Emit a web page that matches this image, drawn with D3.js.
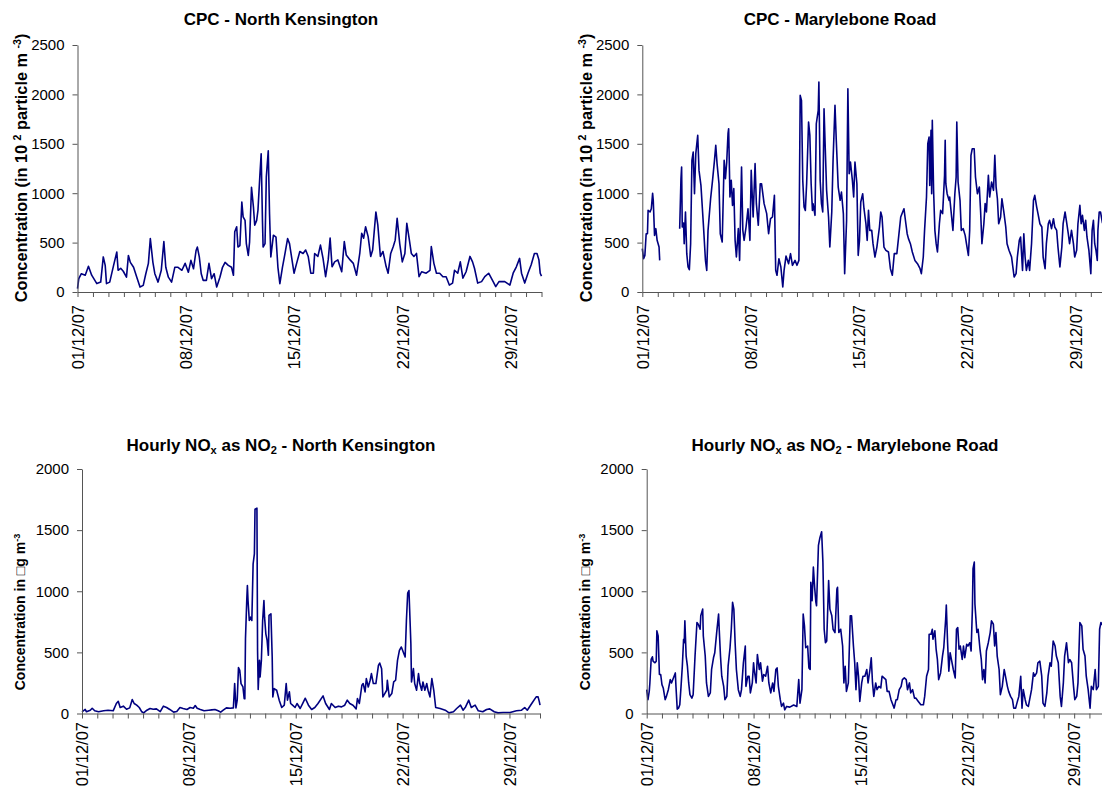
<!DOCTYPE html>
<html><head><meta charset="utf-8">
<script src="https://cdn.jsdelivr.net/npm/d3@7"></script>
<style>
body{margin:0;background:#fff}
svg{display:block;font-family:"Liberation Sans",Arial,sans-serif}
</style></head><body>
<svg id="c" width="1102" height="788"></svg>
<script>
// x tick labels (every 7 days), daily minor ticks
const xTickLabels = ["01/12/07","08/12/07","15/12/07","22/12/07","29/12/07"];
const cpcTicks = [0,500,1000,1500,2000,2500];
const noxTicks = [0,500,1000,1500,2000];

// CPC - North Kensington (hours since 01/12/07 00:00, values)
const tlHours = [0,2,6,12,17,22,30,36,40,43,45,50,56,61,63,67,71,76,79,82,87,92,97,102,106,110,113,117,120,125,130,134,137,141,146,151,156,162,167,172,176,180,184,186,189,192,195,200,204,208,212,216,221,225,229,234,239,242,244,247,249,252,255,257,260,262,265,267,270,273,275,278,280,283,285,287,288,291,293,296,298,300,304,308,311,314,318,322,326,329,336,340,345,350,354,358,362,366,368,373,377,381,385,389,392,395,399,404,410,414,417,423,428,433,438,441,444,447,451,455,458,463,466,470,474,479,482,486,490,493,496,500,504,508,511,515,518,522,526,530,534,541,547,549,553,557,562,567,572,577,582,585,590,594,598,603,609,613,616,621,627,632,638,645,649,654,663,671,676,681,686,689,694,699,704,709,713,716,718,720];
const tlValues = [34,135,185,170,260,170,85,100,355,270,85,100,270,405,220,240,210,150,370,300,250,150,50,67,185,290,540,300,185,100,220,510,250,150,100,250,250,220,290,200,320,235,420,455,355,185,118,118,290,135,185,50,150,250,300,270,250,170,610,660,455,470,910,760,725,490,370,505,1060,860,675,725,825,1180,1400,725,455,490,1165,1430,790,355,575,555,250,85,250,390,540,490,190,290,410,390,425,360,190,190,390,360,475,340,155,325,545,255,305,325,205,510,375,325,290,170,390,595,545,660,560,360,425,810,680,360,410,255,190,390,460,525,745,490,305,390,695,525,390,360,390,155,205,190,220,460,290,190,190,155,155,70,90,220,190,305,140,205,360,305,240,90,105,155,190,105,55,105,105,70,190,255,340,190,90,190,275,390,390,325,190,160];

// CPC - Marylebone Road (null = missing data)
const trHours = [0,2,4,6,8,9,12,14,16,17,19,21,23,26,27,40,58,60,61,62,64,65,67,69,71,73,75,77,79,81,83,86,88,91,95,98,100,102,106,109,112,114,116,119,121,124,127,129,131,133,134,136,138,140,142,144,146,149,151,154,156,158,161,164,167,169,172,175,177,180,183,185,189,193,196,199,202,205,207,209,212,215,218,220,223,227,230,233,237,240,243,245,247,249,251,253,255,258,260,262,264,265,268,270,273,274,276,278,280,282,284,286,289,291,294,296,299,301,304,307,309,312,314,317,319,321,323,326,328,330,333,335,337,339,342,344,347,349,351,353,356,358,361,364,368,370,372,375,378,382,385,388,391,395,398,401,404,406,409,411,413,416,419,423,427,431,433,436,438,441,443,445,446,448,449,450,452,454,456,458,461,463,466,469,470,471,473,476,477,480,482,485,487,488,490,493,495,498,501,503,506,508,510,512,515,517,520,523,525,527,530,532,534,537,539,542,545,547,549,551,553,556,558,561,564,566,569,573,577,580,582,585,587,590,592,594,596,599,601,604,607,609,612,614,617,620,622,625,627,630,632,635,638,640,643,645,648,651,653,656,658,661,663,666,669,671,674,676,679,681,683,686,688,690,693,696,698,700,702,704,706,707,709,711,714,717,720];
const trValues = [438,337,371,590,590,826,810,843,1000,928,573,641,523,455,320,null,641,1147,1265,658,698,489,810,388,253,226,489,1332,1417,995,1400,1585,1231,1079,658,320,219,624,944,1130,1332,1484,1299,1096,590,506,1332,1147,1315,1602,1653,961,1130,877,1046,523,354,641,320,1265,624,523,658,843,523,1231,759,1299,894,675,1096,1096,894,793,590,742,759,978,219,169,337,253,51,219,364,287,388,270,320,270,320,1990,1940,1130,860,826,1096,1720,1585,1096,826,894,776,1703,1838,2125,1130,894,810,1855,1434,1029,759,455,810,1332,1889,1535,1062,928,1012,793,186,725,2057,1197,1315,1130,961,1315,1096,371,523,911,995,843,691,523,826,624,624,489,354,455,658,810,759,455,422,405,236,169,388,388,573,759,810,843,691,590,540,489,405,320,287,236,186,354,624,961,1501,1568,1079,1636,995,1737,1029,624,489,405,691,826,793,1180,1535,1096,995,928,961,759,624,995,1164,1720,1113,928,624,641,573,489,371,624,1383,1450,1450,1164,995,1062,810,489,691,894,810,1180,961,1113,1029,1383,1062,944,691,759,944,810,658,489,422,354,152,186,354,523,557,219,590,354,219,320,219,489,928,978,860,793,691,658,354,236,489,691,725,641,742,658,624,455,253,455,691,810,725,590,489,624,489,354,422,691,877,691,776,624,725,557,422,186,624,725,489,422,320,624,810,810,700,850,840];

// Hourly NOx as NO2 - North Kensington
const blHours = [0,5,7,13,16,20,26,34,41,49,54,57,60,65,70,75,79,82,86,90,94,97,102,107,112,117,123,128,133,138,144,149,154,159,165,170,175,178,181,186,192,199,204,209,214,218,222,227,233,238,240,242,244,246,248,250,253,255,256,257,259,260,261,263,265,267,269,271,272,275,276,277,279,280,282,284,286,287,289,291,293,294,297,299,300,302,306,310,314,318,321,323,326,328,331,335,338,343,347,351,356,361,366,371,379,383,389,392,398,403,408,413,417,421,426,431,433,436,440,442,445,447,450,453,455,458,462,466,468,471,473,476,479,480,483,487,490,493,496,499,502,505,508,510,512,514,517,518,521,523,526,529,531,534,536,539,542,544,547,550,553,556,563,571,577,584,589,595,599,603,608,612,618,623,630,636,641,648,654,662,673,683,691,696,700,707,714,717,719,720];
const blValues = [14,33,14,27,43,22,14,22,27,22,82,100,49,60,35,46,114,82,68,49,14,5,27,41,35,38,16,60,49,33,11,16,49,41,33,49,43,65,43,33,22,27,30,33,22,11,27,46,43,46,245,46,109,375,353,245,217,122,120,612,924,1046,924,761,788,761,1223,1305,1672,1680,516,196,435,299,435,761,924,788,652,598,476,802,815,462,136,204,190,109,49,68,245,109,177,82,68,49,82,41,82,125,68,33,49,82,144,82,33,82,49,60,54,68,109,82,68,38,122,82,231,245,177,285,217,272,326,245,245,394,413,367,136,163,190,272,136,163,258,272,435,516,544,503,462,761,984,1006,571,258,367,245,190,326,245,190,258,190,245,190,136,285,190,49,41,27,5,14,41,68,27,54,109,49,68,22,14,33,38,14,5,8,8,22,27,49,27,82,136,136,95,68];

// Hourly NOx as NO2 - Marylebone Road
const brHours = [0,2,4,5,7,9,10,13,15,16,18,20,22,24,26,29,31,34,37,39,42,45,46,48,50,52,54,56,58,59,60,62,64,66,68,71,73,76,79,81,84,85,88,89,92,94,97,100,102,105,107,110,113,114,116,118,121,123,126,128,131,133,134,135,137,139,141,144,147,149,152,155,156,159,161,163,166,168,169,172,174,177,179,182,184,187,190,192,195,198,200,203,205,207,210,212,215,217,220,225,231,236,239,241,244,246,248,250,253,255,257,258,260,262,264,266,267,270,272,275,277,279,281,283,286,288,291,293,296,299,300,302,305,308,310,312,314,317,320,322,325,327,329,331,333,335,338,340,343,346,348,351,353,355,357,360,362,365,368,370,373,376,378,381,384,387,389,392,394,397,400,402,405,408,410,413,415,418,421,423,427,431,435,437,440,443,444,447,449,450,453,455,457,459,462,465,467,470,471,473,475,477,479,482,485,487,489,491,493,496,498,500,503,505,508,510,512,513,515,516,519,521,524,526,528,530,532,534,537,540,542,545,547,549,551,554,556,559,562,564,567,569,572,575,577,580,582,585,588,590,592,595,597,600,602,605,608,610,613,615,618,621,623,626,629,631,634,636,639,642,644,647,650,652,655,657,660,663,665,668,671,673,676,678,681,684,686,689,691,694,697,699,702,705,707,710,712,714,717,720];
const brValues = [195,113,181,250,442,464,428,415,428,676,634,319,319,236,209,113,140,195,277,250,291,332,222,36,44,71,222,387,607,579,758,470,387,250,154,126,154,470,744,730,689,799,854,634,470,250,140,168,360,456,497,662,813,689,470,305,222,113,140,387,538,689,799,909,854,579,360,195,140,195,415,552,222,305,305,168,250,415,360,250,483,360,415,264,319,305,387,250,168,250,181,360,373,222,113,58,85,30,58,52,69,58,277,85,195,813,717,538,552,373,360,1074,923,1197,1032,909,881,1376,1431,1486,1238,689,579,593,1087,854,799,689,662,1019,1032,662,689,552,250,387,181,250,799,799,552,415,195,415,305,99,250,305,305,360,250,360,456,250,140,250,195,222,209,305,291,277,181,181,113,71,44,113,113,195,222,277,291,277,195,250,168,195,126,126,99,71,71,140,305,360,648,648,689,607,676,525,442,277,332,470,538,772,887,579,346,497,442,360,291,689,703,525,552,442,552,456,566,552,579,511,854,1184,1238,895,662,689,525,442,277,360,250,511,579,662,758,730,552,662,470,360,154,222,360,305,222,181,140,113,44,44,85,140,305,44,195,113,71,58,113,195,332,305,332,415,428,305,85,58,168,305,415,387,593,552,470,415,140,58,250,470,579,415,442,415,222,113,140,250,744,717,525,470,305,195,44,222,195,360,195,222,689,744,720,700];

const t0 = Date.UTC(2007, 11, 1);
const t1 = Date.UTC(2007, 11, 31);
const fmt = d3.utcFormat("%d/%m/%y");

const svg = d3.select("#c");
const FONT = '"Liberation Sans", Arial, sans-serif';

function addRich(sel, parts) {
  parts.forEach(([t, m]) => {
    const ts = sel.append("tspan").text(t);
    if (m === "sup") ts.attr("font-size", "0.65em").attr("dy", "-0.55em");
    if (m === "sub") ts.attr("font-size", "0.65em").attr("dy", "0.3em");
    if (m === "back-sup") ts.attr("dy", "0.36em");
    if (m === "back-sub") ts.attr("dy", "-0.2em");
  });
}

const cpcLabel = [["Concentration (in 10 ", null], ["2", "sup"], [" particle m ", "back-sup"], ["-3", "sup"], [")", "back-sup"]];
const noxLabel = [["Concentration in \u25A1g m", null], ["-3", "sup"]];

const panels = [
  { hours: tlHours, values: tlValues, ticks: cpcTicks, yMax: 2500,
    x0: 77.5, x1: 541.5, yTop: 45, yBot: 292, xPad: 13,
    title: [["CPC - North Kensington", null]], tx: 281, ty: 25,
    ylab: cpcLabel, lsize: 16.3, lx: 27, ly: 168 },
  { hours: trHours, values: trValues, ticks: cpcTicks, yMax: 2500,
    x0: 642.3, x1: 1106.3, yTop: 45, yBot: 292, xPad: 13,
    title: [["CPC - Marylebone Road", null]], tx: 840, ty: 25,
    ylab: cpcLabel, lsize: 16.3, lx: 592, ly: 168 },
  { hours: blHours, values: blValues, ticks: noxTicks, yMax: 2000,
    x0: 82, x1: 540, yTop: 469, yBot: 713.5, xPad: 8.5,
    title: [["Hourly NO", null], ["x", "sub"], [" as NO", "back-sub"], ["2", "sub"], [" - North Kensington", "back-sub"]], tx: 281, ty: 451,
    ylab: noxLabel, lsize: 14, lx: 25, ly: 612 },
  { hours: brHours, values: brValues, ticks: noxTicks, yMax: 2000,
    x0: 646.7, x1: 1104.7, yTop: 469, yBot: 713.5, xPad: 8.5,
    title: [["Hourly NO", null], ["x", "sub"], [" as NO", "back-sub"], ["2", "sub"], [" - Marylebone Road", "back-sub"]], tx: 845, ty: 451,
    ylab: noxLabel, lsize: 14, lx: 590, ly: 612 }
];

panels.forEach(p => {
  const x = d3.scaleUtc().domain([new Date(t0), new Date(t1)]).range([p.x0, p.x1]);
  const y = d3.scaleLinear().domain([0, p.yMax]).range([p.yBot, p.yTop]);
  const data = p.hours.map((h, i) => ({ t: new Date(t0 + h * 3600e3), v: p.values[i] }));

  const line = d3.line()
    .defined(d => d.v != null)
    .x(d => x(d.t)).y(d => y(d.v));

  svg.append("path").datum(data)
    .attr("fill", "none").attr("stroke", "#000080")
    .attr("stroke-width", 1.6).attr("stroke-linejoin", "round")
    .attr("d", line);

  const ya = svg.append("g").attr("transform", `translate(${p.x0},0)`)
    .call(d3.axisLeft(y).tickValues(p.ticks).tickSize(5).tickSizeOuter(0).tickPadding(8).tickFormat(d3.format("d")));
  ya.attr("color", "#555");
  ya.selectAll("text").attr("fill", "#000").style("font-size", "15px").style("font-family", FONT);

  const days = d3.utcDay.range(new Date(t0), new Date(t1 + 1));
  const xa = svg.append("g").attr("transform", `translate(0,${p.yBot})`)
    .call(d3.axisBottom(x).tickValues(days).tickSize(5).tickSizeOuter(0)
      .tickFormat(d => xTickLabels.includes(fmt(d)) ? fmt(d) : ""));
  xa.attr("color", "#555");
  xa.selectAll("text").attr("fill", "#000").style("font-size", "16.5px").style("font-family", FONT)
    .attr("transform", "rotate(-90)").attr("text-anchor", "end")
    .attr("x", -p.xPad).attr("y", 0).attr("dy", "0.35em");

  const tt = svg.append("text").attr("x", p.tx).attr("y", p.ty)
    .attr("text-anchor", "middle").attr("font-weight", "bold").attr("font-size", "17px")
    .style("font-family", FONT);
  addRich(tt, p.title);

  const yl = svg.append("text").attr("transform", `translate(${p.lx},${p.ly}) rotate(-90)`)
    .attr("text-anchor", "middle").attr("font-weight", "bold").attr("font-size", p.lsize + "px")
    .style("font-family", FONT);
  addRich(yl, p.ylab);
});
</script>
</body></html>
